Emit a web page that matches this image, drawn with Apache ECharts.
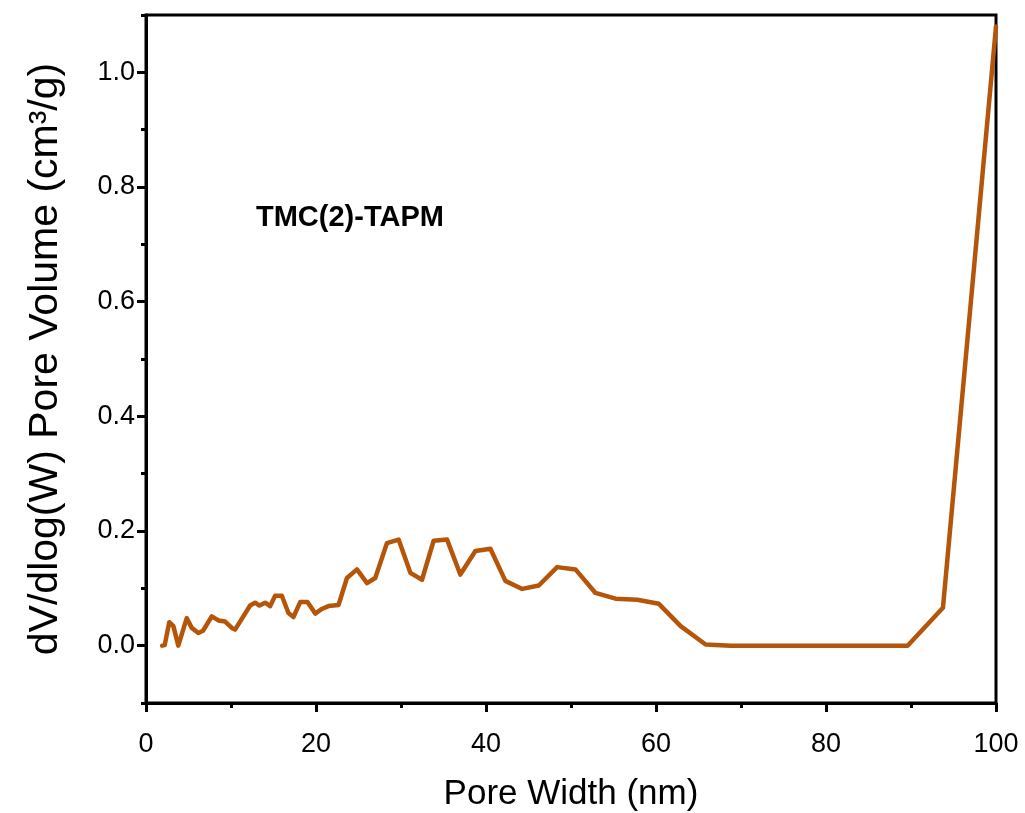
<!DOCTYPE html>
<html>
<head>
<meta charset="utf-8">
<script src="https://cdn.jsdelivr.net/npm/echarts@6/dist/echarts.min.js"></script>
<style>
html,body{margin:0;padding:0;background:#fff;}
#chart{width:1025px;height:813px;}
</style>
</head>
<body>
<div id="chart"></div>
<script>
// Pore width (nm)
const poreWidth = [1.9, 2.2, 2.74, 3.22, 3.8, 4.79, 5.38, 6.16, 6.71, 7.74, 8.52, 9.31, 10.1, 10.48,
  12.25, 12.84, 13.35, 14.02, 14.61, 15.19, 15.98, 16.76, 17.35, 18.14, 19.0, 19.91, 20.69, 21.47,
  22.65, 23.64, 24.82, 26.0, 26.97, 28.35, 29.72, 31.1, 32.47, 33.84, 35.42, 36.98, 38.75, 40.52,
  42.28, 44.25, 46.21, 48.37, 50.53, 52.88, 55.24, 57.8, 60.34, 62.9, 65.84, 68.79, 72.0, 75.5,
  79.0, 82.5, 86.0, 89.6, 93.76, 100.0];
// dV/dlog(W) pore volume (cm³/g)
const poreVolume = [0.0, 0.001, 0.041, 0.034, 0.0, 0.048, 0.031, 0.022, 0.026, 0.051, 0.044, 0.042, 0.031, 0.028,
  0.070, 0.075, 0.070, 0.075, 0.069, 0.087, 0.087, 0.057, 0.050, 0.076, 0.076, 0.056, 0.064, 0.069,
  0.071, 0.118, 0.133, 0.109, 0.118, 0.179, 0.185, 0.127, 0.115, 0.183, 0.185, 0.124, 0.165, 0.169,
  0.113, 0.099, 0.105, 0.137, 0.133, 0.092, 0.082, 0.080, 0.073, 0.034, 0.002, 0.0, 0.0, 0.0,
  0.0, 0.0, 0.0, 0.0, 0.066, 1.08];
const yMajorTicks = [0.0, 0.2, 0.4, 0.6, 0.8, 1.0];
const yMinorTicks = [-0.1, 0.1, 0.3, 0.5, 0.7, 0.9, 1.1];
const xTitle = 'Pore Width (nm)';
const yTitle = 'dV/dlog(W) Pore Volume (cm³/g)';
const sampleLabel = 'TMC(2)-TAPM';

const FONT = 'Liberation Sans, Arial, sans-serif';
const chart = echarts.init(document.getElementById('chart'), null, {renderer: 'canvas'});
const seriesData = poreWidth.map((x, i) => [x, poreVolume[i]]);

const commonY = {
  type: 'value', min: -0.1, max: 1.1, position: 'left', splitLine: {show: false}
};

chart.setOption({
  animation: false,
  backgroundColor: '#fff',
  grid: {left: 146, right: 29, top: 15, bottom: 110, show: true, borderColor: '#000', borderWidth: 3,
    backgroundColor: 'transparent', containLabel: false, outerBoundsMode: 'none'},
  title: {
    text: sampleLabel, left: 251, top: 198,
    textStyle: {fontFamily: FONT, fontWeight: 'bold', fontSize: 29, color: '#000'}
  },
  xAxis: {
    type: 'value', min: 0, max: 100, interval: 20,
    name: xTitle, nameLocation: 'middle', nameGap: 74,
    nameTextStyle: {fontFamily: FONT, fontSize: 35, color: '#000'},
    axisLine: {show: true, onZero: false, lineStyle: {color: '#000', width: 3}},
    axisTick: {show: true, inside: false, length: 9, lineStyle: {color: '#000', width: 3}},
    minorTick: {show: true, splitNumber: 2, length: 5, lineStyle: {color: '#000', width: 3}},
    axisLabel: {fontFamily: FONT, fontSize: 27, color: '#000', margin: 28},
    splitLine: {show: false}, minorSplitLine: {show: false}
  },
  yAxis: [
    Object.assign({}, commonY, {
      name: yTitle, nameLocation: 'middle', nameGap: 80, nameRotate: 90,
      nameTextStyle: {fontFamily: FONT, fontSize: 41, color: '#000'},
      axisLine: {show: true, onZero: false, lineStyle: {color: '#000', width: 3}},
      axisTick: {show: true, inside: false, length: 9, customValues: yMajorTicks, lineStyle: {color: '#000', width: 3}},
      axisLabel: {fontFamily: FONT, fontSize: 27, color: '#000', margin: 11, customValues: yMajorTicks,
        formatter: v => v.toFixed(1)}
    }),
    Object.assign({}, commonY, {
      axisLine: {show: false, onZero: false},
      axisTick: {show: true, inside: false, length: 5, customValues: yMinorTicks, lineStyle: {color: '#000', width: 3}},
      axisLabel: {show: false}
    })
  ],
  series: [{
    type: 'line', data: seriesData, yAxisIndex: 0,
    showSymbol: false, symbol: 'none',
    lineStyle: {color: '#b4550a', width: 4.5, join: 'round', cap: 'round'},
    clip: true
  }]
});
</script>
</body>
</html>
